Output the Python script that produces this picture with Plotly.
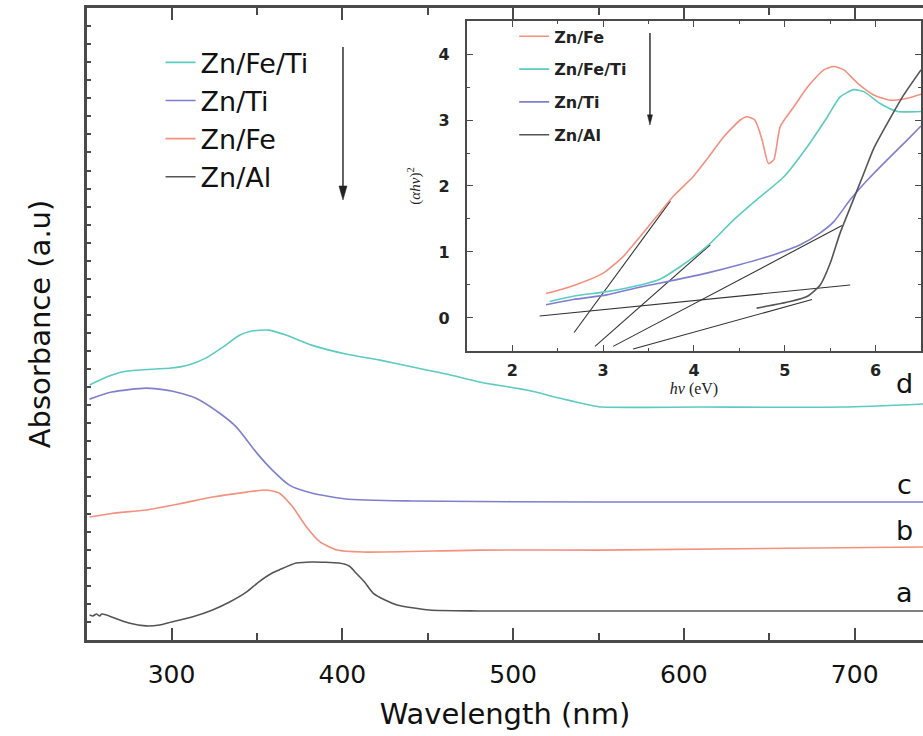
import plotly.graph_objects as go

# ---------------- main spectra (wavelength nm, absorbance a.u.) ----------------
wl_d = [252, 262, 271, 281, 300, 310, 320, 330, 340, 347, 357, 367, 382, 402, 422, 441, 461, 480, 508, 527, 545, 552, 609, 693, 740]
abs_d = [14.12, 14.56, 14.84, 14.95, 15.06, 15.23, 15.61, 16.22, 16.89, 17.11, 17.16, 16.89, 16.33, 15.84, 15.50, 15.12, 14.73, 14.29, 13.84, 13.40, 13.01, 12.90, 12.90, 12.90, 13.07]

wl_c = [252, 265, 285, 300, 314, 328, 338, 350, 359, 369, 382, 402, 441, 551, 740]
abs_c = [13.34, 13.73, 13.95, 13.79, 13.40, 12.57, 11.79, 10.35, 9.41, 8.58, 8.14, 7.81, 7.70, 7.64, 7.64]

wl_b = [252, 265, 285, 304, 324, 344, 355, 363, 371, 379, 387, 397, 412, 480, 551, 740]
abs_b = [6.81, 7.01, 7.20, 7.53, 7.92, 8.19, 8.31, 8.14, 7.36, 6.26, 5.43, 4.98, 4.87, 4.98, 4.98, 5.15]

wl_a = [252, 254, 256, 258, 259, 262, 265, 275, 285, 293, 300, 312, 324, 334, 344, 351, 359, 363, 373, 382, 398, 404, 408, 413, 418, 425, 432, 451, 480, 740]
abs_a = [1.38, 1.33, 1.44, 1.33, 1.44, 1.38, 1.27, 0.94, 0.78, 0.83, 1.00, 1.27, 1.66, 2.10, 2.66, 3.21, 3.71, 3.88, 4.26, 4.32, 4.26, 4.10, 3.71, 3.21, 2.60, 2.21, 1.94, 1.66, 1.61, 1.61]

# ---------------- inset Tauc plot (hv eV, (ahv)^2) ----------------
ev_fe = [2.37, 2.67, 3.00, 3.22, 3.41, 3.59, 3.77, 3.99, 4.14, 4.33, 4.51, 4.58, 4.67, 4.75, 4.82, 4.88, 4.95, 5.10, 5.25, 5.43, 5.54, 5.65, 5.80, 5.98, 6.16, 6.35, 6.50]
t_fe = [0.37, 0.49, 0.68, 0.93, 1.24, 1.54, 1.84, 2.14, 2.40, 2.75, 3.00, 3.05, 3.00, 2.70, 2.34, 2.40, 2.90, 3.20, 3.50, 3.76, 3.81, 3.76, 3.56, 3.38, 3.30, 3.33, 3.39]

ev_feti = [2.41, 2.67, 3.04, 3.41, 3.63, 3.85, 4.14, 4.44, 4.69, 4.99, 5.25, 5.47, 5.61, 5.76, 5.87, 6.05, 6.24, 6.50]
t_feti = [0.25, 0.33, 0.40, 0.50, 0.59, 0.78, 1.08, 1.49, 1.79, 2.14, 2.60, 3.05, 3.35, 3.46, 3.43, 3.25, 3.13, 3.13]

ev_ti = [2.37, 2.67, 3.04, 3.41, 3.77, 4.14, 4.51, 4.88, 5.17, 5.39, 5.54, 5.72, 5.91, 6.13, 6.35, 6.50]
t_ti = [0.20, 0.28, 0.35, 0.47, 0.57, 0.68, 0.81, 0.96, 1.11, 1.29, 1.46, 1.79, 2.09, 2.40, 2.70, 2.91]

ev_al = [4.69, 5.06, 5.25, 5.39, 5.50, 5.61, 5.74, 5.87, 5.98, 6.15, 6.31, 6.50]
t_al = [0.15, 0.25, 0.33, 0.50, 0.83, 1.29, 1.74, 2.19, 2.57, 3.00, 3.38, 3.76]

# tangent (extrapolation) lines: [x0, x1], [y0, y1]
fit_x = [[2.68, 3.74], [2.91, 4.18], [3.11, 5.63], [3.33, 5.30], [2.30, 5.72]]
fit_y = [[-0.22, 1.77], [-0.43, 1.11], [-0.43, 1.40], [-0.47, 0.28], [0.03, 0.50]]

curve_labels = ["d", "c", "b", "a"]

C_TEAL = "#5ccbc1"
C_BLUE = "#7f7fcf"
C_SALMON = "#f4907e"
C_GRAY = "#555555"
AX = "#4a4a4a"
FONT = "DejaVu Sans"

fig = go.Figure()

main_series = [("Zn/Fe/Ti", wl_d, abs_d, C_TEAL),
               ("Zn/Ti", wl_c, abs_c, C_BLUE),
               ("Zn/Fe", wl_b, abs_b, C_SALMON),
               ("Zn/Al", wl_a, abs_a, C_GRAY)]
for i, (name, x, y, col) in enumerate(main_series):
    fig.add_trace(go.Scatter(x=x, y=y, mode="lines", name=name,
                             line=dict(color=col, width=1.6, shape="spline", smoothing=0.6),
                             legend="legend", legendgroup="m%d" % i, xaxis="x", yaxis="y"))

for xs, ys in zip(fit_x, fit_y):
    fig.add_trace(go.Scatter(x=xs, y=ys, mode="lines", showlegend=False,
                             line=dict(color="#333333", width=1.1),
                             xaxis="x2", yaxis="y2", hoverinfo="skip"))

inset_series = [("Zn/Fe", ev_fe, t_fe, C_SALMON),
                ("Zn/Fe/Ti", ev_feti, t_feti, C_TEAL),
                ("Zn/Ti", ev_ti, t_ti, C_BLUE),
                ("Zn/Al", ev_al, t_al, C_GRAY)]
for i, (name, x, y, col) in enumerate(inset_series):
    fig.add_trace(go.Scatter(x=x, y=y, mode="lines", name=name,
                             line=dict(color=col, width=1.6, shape="spline", smoothing=0.6),
                             legend="legend2", legendgroup="i%d" % i, xaxis="x2", yaxis="y2"))

# arrows (shaft + head) drawn as shapes in paper coordinates
def add_arrow(xp, ytop, ytip, head_len, half_w):
    fig.add_shape(type="line", xref="paper", yref="paper", x0=xp, x1=xp, y0=ytop, y1=ytip + head_len * 0.5,
                  line=dict(color="#222", width=1.4))
    fig.add_shape(type="path", xref="paper", yref="paper",
                  path="M %f,%f L %f,%f L %f,%f Z" % (xp, ytip, xp - half_w, ytip + head_len, xp + half_w, ytip + head_len),
                  fillcolor="#222", line=dict(color="#222", width=0.5))

add_arrow(0.3062, 0.9383, 0.6962, 0.0222, 0.0048)
add_arrow(0.6734, 0.9604, 0.8149, 0.0160, 0.0030)

for lab, yp in zip(curve_labels, [0.4066, 0.2453, 0.174, 0.0759]):
    fig.add_annotation(x=0.978, y=yp, xref="paper", yref="paper", text=lab, showarrow=False,
                       xanchor="center", yanchor="middle",
                       font=dict(family=FONT, size=27, color="#111"))

fig.update_layout(
    width=923, height=736,
    margin=dict(l=87, r=0, t=8, b=96),
    plot_bgcolor="white", paper_bgcolor="white",
    showlegend=True,
    font=dict(family=FONT, color="#111"),
    xaxis=dict(range=[250.5, 740], tick0=300, dtick=100, ticks="inside", ticklen=12, tickwidth=2, tickcolor=AX,
               minor=dict(dtick=50, ticks="inside", ticklen=7, tickwidth=1.5, tickcolor=AX),
               showline=True, linewidth=2.5, linecolor=AX, mirror="ticks", showgrid=False, zeroline=False,
               tickfont=dict(family=FONT, size=25, color="#111"), ticklabelstandoff=10,
               title=dict(text="Wavelength (nm)", font=dict(family=FONT, size=29, color="#111"), standoff=16)),
    yaxis=dict(range=[0, 35.0], dtick=1, ticks="inside", ticklen=4, tickwidth=1.5, tickcolor=AX,
               showticklabels=False, showline=True, linewidth=2.5, linecolor=AX, showgrid=False, zeroline=False,
               title=dict(text="Absorbance (a.u)", font=dict(family=FONT, size=29, color="#111"), standoff=26)),
    xaxis2=dict(domain=[0.4545, 0.9976], anchor="y2", range=[1.5, 6.5], dtick=1, ticks="inside", ticklen=6,
                tickcolor=AX, minor=dict(dtick=0.5, ticks="inside", ticklen=3, tickcolor=AX),
                showline=True, linewidth=2, linecolor=AX, mirror="ticks", showgrid=False, zeroline=False,
                tickfont=dict(family=FONT, size=16, color="#222", weight="bold"), ticklabelstandoff=4,
                title=dict(text="<i>hν</i> (eV)", font=dict(family="Liberation Serif", size=16, color="#222"), standoff=4)),
    yaxis2=dict(domain=[0.4573, 0.9794], anchor="x2", range=[-0.5, 4.5], dtick=1, ticks="inside", ticklen=6,
                tickcolor=AX, minor=dict(dtick=0.5, ticks="inside", ticklen=3, tickcolor=AX),
                showline=True, linewidth=2, linecolor=AX, mirror="ticks", showgrid=False, zeroline=False,
                tickfont=dict(family=FONT, size=16, color="#222", weight="bold"), ticklabelstandoff=12,
                title=dict(text="(<i>αhν</i>)<sup>2</sup>", font=dict(family="Liberation Serif", size=15, color="#222"), standoff=14)),
    legend=dict(x=0.088, y=0.952, xanchor="left", yanchor="top", bgcolor="rgba(0,0,0,0)",
                font=dict(family=FONT, size=27, color="#111"), tracegroupgap=0, itemwidth=30),
    legend2=dict(x=0.511, y=0.982, xanchor="left", yanchor="top", bgcolor="rgba(0,0,0,0)",
                 font=dict(family=FONT, size=16, color="#222", weight="bold"), tracegroupgap=9, itemwidth=30),
)

fig.write_html("out.html",
               config={"displayModeBar": False},
               post_script="document.documentElement.style.overflow='hidden';"
                           "document.body.style.margin='0';document.body.style.overflow='hidden';")
